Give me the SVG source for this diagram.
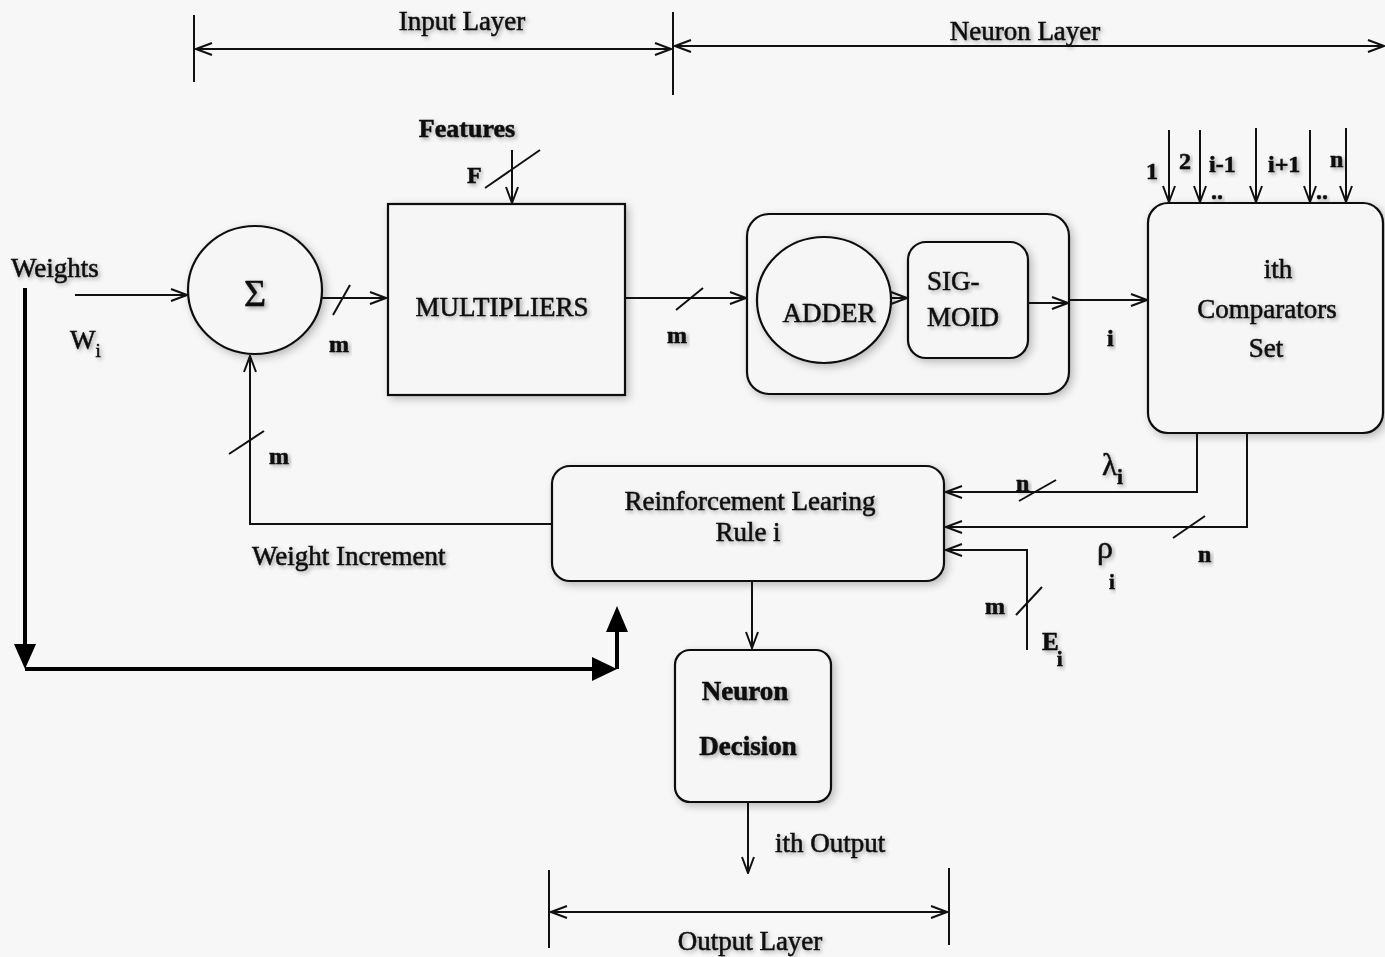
<svg xmlns="http://www.w3.org/2000/svg" width="1385" height="957" viewBox="0 0 1385 957">
<style>
.t{font-family:"Liberation Serif","Times New Roman",serif;fill:#111;stroke:#111;stroke-width:0.55;filter:url(#ts);font-size:27px}
.c{text-anchor:middle}
.s{font-size:24px;font-weight:bold}
.b{font-weight:bold}
.ln{fill:none;stroke:#111;stroke-width:2}
.box{fill:#f6f6f6;stroke:#111;stroke-width:2.2;filter:url(#sh)}
.thick{fill:none;stroke:#000;stroke-width:4}
</style>
<defs>
<filter id="sh" x="-10%" y="-10%" width="125%" height="125%">
<feGaussianBlur in="SourceAlpha" stdDeviation="4"/>
<feOffset dx="3" dy="3" result="o"/>
<feComponentTransfer><feFuncA type="linear" slope="0.25"/></feComponentTransfer>
<feMerge><feMergeNode/><feMergeNode in="SourceGraphic"/></feMerge>
</filter>
<filter id="ts" x="-10%" y="-20%" width="125%" height="150%">
<feGaussianBlur in="SourceAlpha" stdDeviation="2"/>
<feOffset dx="2" dy="2"/>
<feComponentTransfer><feFuncA type="linear" slope="0.35"/></feComponentTransfer>
<feMerge><feMergeNode/><feMergeNode in="SourceGraphic"/></feMerge>
</filter>
<marker id="a" viewBox="0 0 18 14" refX="17" refY="7" markerWidth="18" markerHeight="14" markerUnits="userSpaceOnUse" orient="auto-start-reverse">
<path d="M1 1 L17 7 L1 13" fill="none" stroke="#111" stroke-width="2"/>
</marker>
</defs>
<rect width="1385" height="957" fill="#f7f7f7"/>

<g id="dimensions">
<line class="ln" x1="194" y1="15" x2="194" y2="82"/>
<line class="ln" x1="673" y1="12" x2="673" y2="95"/>
<line class="ln" x1="196" y1="49" x2="671" y2="49" marker-start="url(#a)" marker-end="url(#a)"/>
<text class="t c" x="462" y="30">Input Layer</text>
<line class="ln" x1="675" y1="46" x2="1384" y2="46" marker-start="url(#a)" marker-end="url(#a)"/>
<text class="t c" x="1025" y="40">Neuron Layer</text>
<line class="ln" x1="549" y1="870" x2="549" y2="948"/>
<line class="ln" x1="949" y1="868" x2="949" y2="945"/>
<line class="ln" x1="551" y1="912" x2="947" y2="912" marker-start="url(#a)" marker-end="url(#a)"/>
<text class="t c" x="750" y="950">Output Layer</text>
</g>

<g id="sigma">
<ellipse class="box" cx="255" cy="290" rx="67" ry="64"/>
<text class="t c" x="255" y="306" style="font-size:38px">Σ</text>
</g>

<g id="multipliers">
<rect class="box" x="388" y="204" width="237" height="191"/>
<text class="t c" x="502" y="316">MULTIPLIERS</text>
</g>

<g id="neuron">
<rect class="box" x="747" y="214" width="322" height="180" rx="22"/>
</g>
<g id="adder">
<ellipse class="box" cx="824" cy="300" rx="67" ry="63"/>
<text class="t c" x="829" y="322">ADDER</text>
</g>
<g id="sigmoid">
<rect class="box" x="908" y="242" width="120" height="116" rx="18"/>
<text class="t" x="927" y="290">SIG-</text>
<text class="t" x="927" y="326">MOID</text>
</g>

<g id="comparators">
<rect class="box" x="1148" y="203" width="235" height="230" rx="20"/>
<text class="t c" x="1278" y="278">ith</text>
<text class="t c" x="1267" y="318">Comparators</text>
<text class="t c" x="1266" y="357">Set</text>
</g>

<g id="rl">
<rect class="box" x="552" y="466" width="392" height="115" rx="18"/>
<text class="t c" x="750" y="510">Reinforcement Learing</text>
<text class="t c" x="748" y="541">Rule i</text>
</g>

<g id="decision">
<rect class="box" x="675" y="650" width="156" height="152" rx="15"/>
<text class="t c b" x="745" y="700">Neuron</text>
<text class="t c b" x="748" y="755">Decision</text>
</g>

<g id="connectors">
<line class="ln" x1="75" y1="295" x2="187" y2="295" marker-end="url(#a)"/>
<text class="t" x="11" y="277">Weights</text>
<text class="t" x="70" y="349">W<tspan style="font-size:19px" dy="8">i</tspan></text>

<line class="ln" x1="322" y1="298" x2="386" y2="298" marker-end="url(#a)"/>
<line class="ln" x1="333" y1="315" x2="350" y2="285"/>
<text class="t s" x="329" y="352">m</text>

<line class="ln" x1="512" y1="150" x2="512" y2="203" marker-end="url(#a)"/>
<line class="ln" x1="485" y1="188" x2="540" y2="150" stroke-width="2.6"/>
<text class="t c b" x="467" y="137" style="font-size:26px">Features</text>
<text class="t s" x="467" y="183">F</text>

<line class="ln" x1="625" y1="298" x2="746" y2="298" marker-end="url(#a)"/>
<line class="ln" x1="676" y1="310" x2="703" y2="288"/>
<text class="t s" x="667" y="343">m</text>

<line class="ln" x1="890" y1="298" x2="907" y2="298" marker-end="url(#a)"/>
<line class="ln" x1="1028" y1="303" x2="1068" y2="303" marker-end="url(#a)"/>
<line class="ln" x1="1069" y1="300" x2="1147" y2="300" marker-end="url(#a)"/>
<text class="t s" x="1107" y="346">i</text>

<line class="ln" x1="1169" y1="130" x2="1169" y2="202" marker-end="url(#a)"/>
<line class="ln" x1="1200" y1="130" x2="1200" y2="202" marker-end="url(#a)"/>
<line class="ln" x1="1256" y1="128" x2="1256" y2="202" marker-end="url(#a)"/>
<line class="ln" x1="1310" y1="130" x2="1310" y2="202" marker-end="url(#a)"/>
<line class="ln" x1="1346" y1="128" x2="1346" y2="202" marker-end="url(#a)"/>
<text class="t s" x="1146" y="179">1</text>
<text class="t s" x="1179" y="169">2</text>
<text class="t s" x="1209" y="172">i-1</text>
<text class="t s" x="1268" y="172">i+1</text>
<text class="t s" x="1330" y="167">n</text>
<text class="t s" x="1211" y="199">..</text>
<text class="t s" x="1316" y="199">..</text>

<path class="ln" d="M1197 433 V492 H946" marker-end="url(#a)"/>
<line class="ln" x1="1019" y1="501" x2="1056" y2="480"/>
<text class="t s" x="1016" y="491">n</text>
<text class="t" x="1102" y="475" style="font-size:31px">λ<tspan style="font-size:21px;font-weight:bold" dy="9">i</tspan></text>

<path class="ln" d="M1247 433 V527 H946" marker-end="url(#a)"/>
<line class="ln" x1="1173" y1="538" x2="1205" y2="516"/>
<text class="t s" x="1198" y="562">n</text>
<text class="t" x="1097" y="558" style="font-size:32px">ρ</text>
<text class="t" x="1109" y="589" style="font-size:21px;font-weight:bold">i</text>

<path class="ln" d="M1027 650 V550 H946" marker-end="url(#a)"/>
<line class="ln" x1="1016" y1="615" x2="1042" y2="587"/>
<text class="t s" x="985" y="614">m</text>
<text class="t b" x="1042" y="650" style="font-size:25px">E<tspan style="font-size:21px" dy="16" dx="-2">i</tspan></text>

<path class="ln" d="M552 524 H250 V356" marker-end="url(#a)"/>
<line class="ln" x1="229" y1="454" x2="264" y2="431"/>
<text class="t s" x="269" y="464">m</text>
<text class="t" x="252" y="565">Weight Increment</text>

<line class="ln" x1="752" y1="581" x2="752" y2="648" marker-end="url(#a)"/>
<line class="ln" x1="748" y1="802" x2="748" y2="873" marker-end="url(#a)"/>
<text class="t" x="775" y="852">ith Output</text>

<path class="thick" d="M25 288 V648"/>
<path d="M14 644 L36 644 L25 669 Z" fill="#000"/>
<path class="thick" d="M25 669 H596"/>
<path d="M592 657 L617 669 L592 681 Z" fill="#000"/>
<path class="thick" d="M617 669 V628"/>
<path d="M606 632 L628 632 L617 606 Z" fill="#000"/>
</g>
</svg>
